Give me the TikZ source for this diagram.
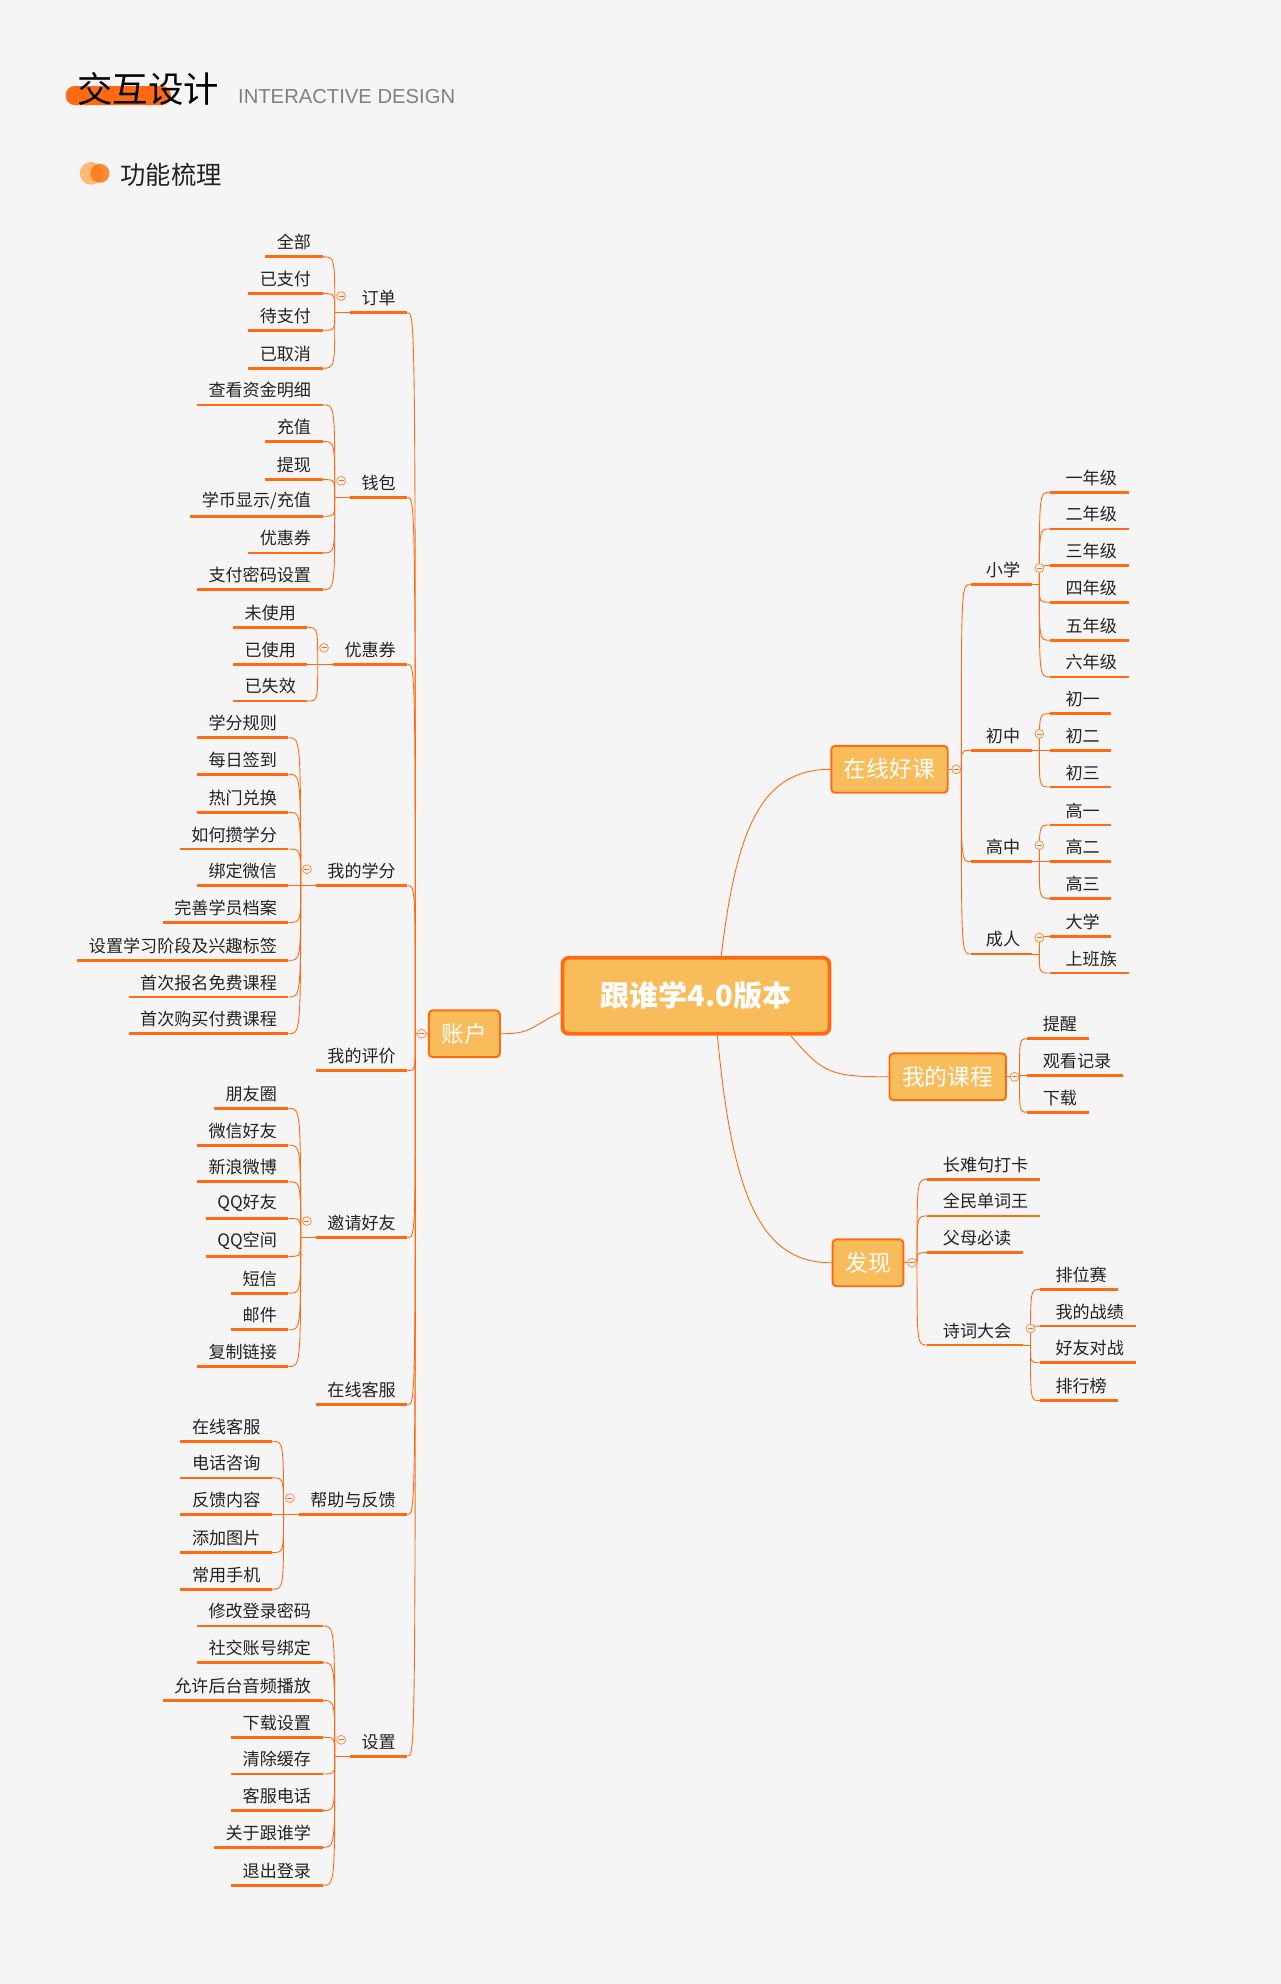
\documentclass[tikz,border=0pt]{standalone}
\usepackage{fontspec}
\setmainfont{Noto Sans CJK SC}
\newfontfamily\latinf{Liberation Sans}
\usetikzlibrary{calc}
\definecolor{oc}{HTML}{FF6A13}
\definecolor{bx}{HTML}{F9BC5A}
\definecolor{bg}{HTML}{F5F5F5}
\definecolor{tx}{HTML}{222222}
\tikzset{
 lleaf/.style={inner xsep=9pt,inner ysep=5pt,text=tx,font=\fontsize{13.5}{15}\selectfont},
 uline/.style={oc,line width=2.2pt},
 conn/.style={oc,line width=0.7pt},
 topbox/.style={fill=bx,draw=oc,line width=1.5pt,rounded corners=3pt,minimum height=37pt,inner xsep=10pt,text=white,font=\fontsize{18}{20}\selectfont},
 coll/.style={circle,draw=oc!80,fill=bg,line width=0.6pt,minimum size=7pt,inner sep=0pt}
}
\newcommand\Ln[4]{\node[lleaf,anchor=south east] (#1) at (#2,#3+13) {#4}; \draw[uline] (#1.south west) -- (#1.south east);}
\newcommand\Rn[4]{\node[lleaf,anchor=south west] (#1) at (#2,#3+13) {\hspace{3pt}#4}; \draw[uline] (#1.south west) -- (#1.south east);}
\newcommand\Coll[1]{\node[coll] (tmpc) at (#1) {}; \draw[oc,line width=0.6pt] ($(tmpc.center)+(-2,0)$) -- ($(tmpc.center)+(2,0)$);}
\newcommand\LGroup[2]{\coordinate (#1j) at ($(#1.south west)+(-12,0)$); \draw[conn] (#1.south west)--(#1j);
 \foreach \c in {#2}{\draw[conn] (#1j) .. controls (#1j |- \c.south east) .. (\c.south east);}
 \Coll{$(#1.south west)+(-7,-13)$}}
\newcommand\RGroup[2]{\coordinate (#1j) at ($(#1.south east)+(6,0)$); \draw[conn] (#1.south east)--(#1j);
 \foreach \c in {#2}{\draw[conn] (#1j) .. controls (#1j |- \c.south west) .. (\c.south west);}
 \Coll{$(#1.south east)+(6,-13)$}}
\begin{document}
\begin{tikzpicture}[x=1pt,y=-1pt]
\fill[bg] (0,0) rectangle (1012,1568);
\useasboundingbox (0,0) rectangle (1012,1568);
% header
\fill[oc,rounded corners=7pt] (52,68) rectangle (135,83);
\node[anchor=west,inner sep=0,font=\fontsize{28}{30}\selectfont,text=black] (h1) at (61,70) {交互设计};
\node[anchor=west,inner sep=0,font=\latinf\fontsize{16}{18}\selectfont,text=gray] (h2) at (188,76) {INTERACTIVE DESIGN};
\fill[orange!55!white] (72,137) circle (9);
\fill[oc!70!orange,opacity=0.8] (79,137) circle (7.5);
\node[anchor=west,inner sep=0,font=\fontsize{20}{22}\selectfont,text=tx] (h3) at (95,138) {功能梳理};
% root
\node[fill=bx,draw=oc,line width=3pt,rounded corners=5pt,minimum width=211pt,minimum height=60pt,text=white,font=\fontsize{23}{26}\selectfont\bfseries] (root) at (550,787) {跟谁学4.0版本};
\node[topbox] (zh) at (367,817) {账户};
\node[topbox] (zx) at (703,608) {在线好课};
\node[topbox] (wk) at (749,851) {我的课程};
\node[topbox] (fx) at (686,998) {发现};
\draw[conn] ($(root.north)+(20,0)$) .. controls +(12,-100) and +(-55,0) .. (zx.west);
\draw[conn] ($(root.south)+(17,0)$) .. controls +(12,130) and +(-55,0) .. (fx.west);
\draw[conn] ($(root.south)+(75,0)$) .. controls +(25,30) and +(-45,0) .. (wk.west);
\draw[conn] ($(root.west)+(0,13)$) .. controls +(-25,12) and +(25,0) .. (zh.east);
% left parents
\Ln{p1}{322}{234}{订单}
\Ln{p2}{322}{380}{钱包}
\Ln{p3}{322}{512}{优惠券}
\Ln{p4}{322}{687}{我的学分}
\Ln{p5}{322}{833}{我的评价}
\Ln{p6}{322}{965}{邀请好友}
\Ln{p7}{322}{1097}{在线客服}
\Ln{p8}{322}{1184}{帮助与反馈}
\Ln{p9}{322}{1375}{设置}
\coordinate (zhj) at ($(zh.west)+(-10,0)$);
\draw[conn] (zh.west)--(zhj);
\foreach \c in {p1,p2,p3,p4,p5,p6,p7,p8,p9}{\draw[conn] (zhj) .. controls (zhj |- \c.south east) .. (\c.south east);}
\Coll{$(zh.west)+(-5,0)$}
% 订单
\Ln{a1}{255}{190}{全部}\Ln{a2}{255}{219}{已支付}\Ln{a3}{255}{248}{待支付}\Ln{a4}{255}{278}{已取消}
\LGroup{p1}{a1,a2,a3,a4}
% 钱包
\Ln{b1}{255}{307}{查看资金明细}\Ln{b2}{255}{336}{充值}\Ln{b3}{255}{366}{提现}\Ln{b4}{255}{395}{学币显示/充值}\Ln{b5}{255}{424}{优惠券}\Ln{b6}{255}{453}{支付密码设置}
\LGroup{p2}{b1,b2,b3,b4,b5,b6}
% 优惠券
\Ln{c1}{243}{483}{未使用}\Ln{c2}{243}{512}{已使用}\Ln{c3}{243}{541}{已失效}
\LGroup{p3}{c1,c2,c3}
% 我的学分
\Ln{d1}{228}{570}{学分规则}\Ln{d2}{228}{599}{每日签到}\Ln{d3}{228}{629}{热门兑换}\Ln{d4}{228}{658}{如何攒学分}\Ln{d5}{228}{687}{绑定微信}\Ln{d6}{228}{716}{完善学员档案}\Ln{d7}{228}{746}{设置学习阶段及兴趣标签}\Ln{d8}{228}{775}{首次报名免费课程}\Ln{d9}{228}{804}{首次购买付费课程}
\LGroup{p4}{d1,d2,d3,d4,d5,d6,d7,d8,d9}
% 邀请好友
\Ln{e1}{228}{863}{朋友圈}\Ln{e2}{228}{892}{微信好友}\Ln{e3}{228}{921}{新浪微博}\Ln{e4}{228}{950}{QQ好友}\Ln{e5}{228}{980}{QQ空间}\Ln{e6}{228}{1009}{短信}\Ln{e7}{228}{1038}{邮件}\Ln{e8}{228}{1067}{复制链接}
\LGroup{p6}{e1,e2,e3,e4,e5,e6,e7,e8}
% 帮助与反馈
\Ln{f1}{215}{1126}{在线客服}\Ln{f2}{215}{1155}{电话咨询}\Ln{f3}{215}{1184}{反馈内容}\Ln{f4}{215}{1214}{添加图片}\Ln{f5}{215}{1243}{常用手机}
\LGroup{p8}{f1,f2,f3,f4,f5}
% 设置
\Ln{g1}{255}{1272}{修改登录密码}\Ln{g2}{255}{1301}{社交账号绑定}\Ln{g3}{255}{1331}{允许后台音频播放}\Ln{g4}{255}{1360}{下载设置}\Ln{g5}{255}{1389}{清除缓存}\Ln{g6}{255}{1418}{客服电话}\Ln{g7}{255}{1447}{关于跟谁学}\Ln{g8}{255}{1477}{退出登录}
\LGroup{p9}{g1,g2,g3,g4,g5,g6,g7,g8}
% 在线好课
\Rn{q1}{767}{449}{小学}\Rn{q2}{767}{580}{初中}\Rn{q3}{767}{668}{高中}\Rn{q4}{767}{741}{成人}
\coordinate (zxj) at ($(zx.east)+(10,0)$);
\draw[conn] (zx.east)--(zxj);
\foreach \c in {q1,q2,q3,q4}{\draw[conn] (zxj) .. controls (zxj |- \c.south west) .. (\c.south west);}
\Coll{$(zx.east)+(6,0)$}
\Rn{r1}{830}{376}{一年级}\Rn{r2}{830}{405}{二年级}\Rn{r3}{830}{434}{三年级}\Rn{r4}{830}{463}{四年级}\Rn{r5}{830}{493}{五年级}\Rn{r6}{830}{522}{六年级}
\RGroup{q1}{r1,r2,r3,r4,r5,r6}
\Rn{s1}{830}{551}{初一}\Rn{s2}{830}{580}{初二}\Rn{s3}{830}{609}{初三}
\RGroup{q2}{s1,s2,s3}
\Rn{t1}{830}{639}{高一}\Rn{t2}{830}{668}{高二}\Rn{t3}{830}{697}{高三}
\RGroup{q3}{t1,t2,t3}
\Rn{u1}{830}{727}{大学}\Rn{u2}{830}{756}{上班族}
\RGroup{q4}{u1,u2}
% 我的课程
\Rn{v1}{812}{808}{提醒}\Rn{v2}{812}{837}{观看记录}\Rn{v3}{812}{866}{下载}
\coordinate (wkj) at ($(wk.east)+(10,0)$);
\draw[conn] (wk.east)--(wkj);
\foreach \c in {v1,v2,v3}{\draw[conn] (wkj) .. controls (wkj |- \c.south west) .. (\c.south west);}
\Coll{$(wk.east)+(6,0)$}
% 发现
\Rn{w1}{733}{919}{长难句打卡}\Rn{w2}{733}{948}{全民单词王}\Rn{w3}{733}{977}{父母必读}\Rn{w4}{733}{1050}{诗词大会}
\coordinate (fxj) at ($(fx.east)+(10,0)$);
\draw[conn] (fx.east)--(fxj);
\foreach \c in {w1,w2,w3,w4}{\draw[conn] (fxj) .. controls (fxj |- \c.south west) .. (\c.south west);}
\Coll{$(fx.east)+(6,0)$}
\Rn{x1}{822}{1006}{排位赛}\Rn{x2}{822}{1035}{我的战绩}\Rn{x3}{822}{1064}{好友对战}\Rn{x4}{822}{1094}{排行榜}
\RGroup{w4}{x1,x2,x3,x4}
\end{tikzpicture}
\end{document}
